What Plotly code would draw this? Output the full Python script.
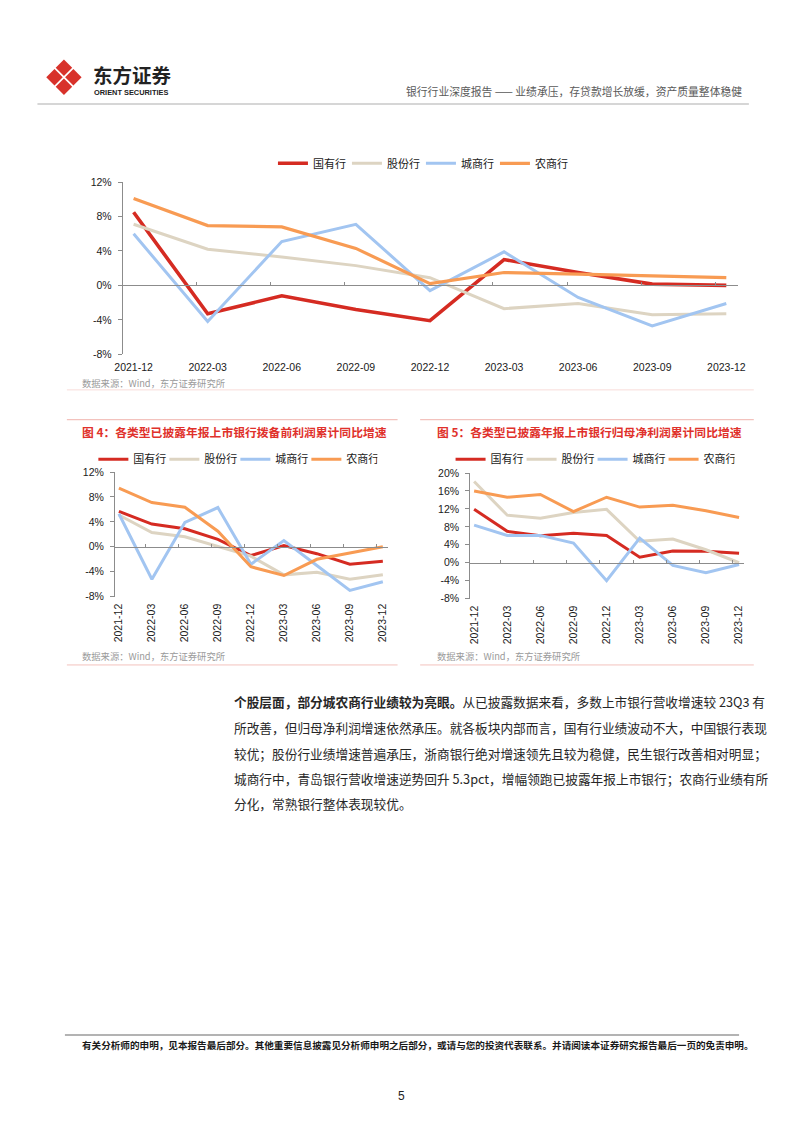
import plotly.graph_objects as go

W, H = 802, 1133


def px(x):
    return x / W


def py(y):
    return 1 - y / H


# ---------------- data ----------------
quarters = ["2021-12", "2022-03", "2022-06", "2022-09", "2022-12",
            "2023-03", "2023-06", "2023-09", "2023-12"]
series_names = ["国有行", "股份行", "城商行", "农商行"]
series_colors = ["#d52b22", "#ddd4c2", "#a2c5f1", "#f89b53"]

# top chart (continued from previous page)
top_guoyou = [8.5, -3.3, -1.2, -2.8, -4.1, 3.0, 1.5, 0.15, 0.0]
top_gufen = [7.1, 4.2, 3.3, 2.3, 0.9, -2.7, -2.1, -3.4, -3.3]
top_chengshang = [6.0, -4.2, 5.1, 7.1, -0.6, 3.9, -1.4, -4.7, -2.1]
top_nongshang = [10.1, 6.95, 6.8, 4.3, 0.2, 1.5, 1.3, 1.1, 0.9]

# Fig 4: pre-provision profit, cumulative YoY
fig4_guoyou = [5.7, 3.65, 2.9, 1.2, -1.4, 0.2, -1.1, -2.8, -2.3]
fig4_gufen = [5.1, 2.3, 1.6, 0.0, -1.5, -4.5, -4.1, -5.2, -4.5]
fig4_chengshang = [5.3, -5.2, 3.9, 6.3, -2.8, 1.0, -3.0, -7.0, -5.6]
fig4_nongshang = [9.4, 7.1, 6.35, 2.5, -3.2, -4.6, -2.0, -1.0, 0.0]

# Fig 5: net profit attributable to parent, cumulative YoY
fig5_guoyou = [11.9, 7.0, 6.0, 6.6, 6.1, 1.25, 2.6, 2.55, 2.1]
fig5_gufen = [18.1, 10.6, 9.9, 11.2, 11.9, 4.8, 5.3, 2.9, 0.0]
fig5_chengshang = [8.4, 6.1, 6.1, 4.4, -4.0, 5.5, -0.6, -2.2, -0.4]
fig5_nongshang = [16.0, 14.6, 15.2, 11.4, 14.6, 12.4, 12.8, 11.6, 10.1]

ticks_a = [-8, -4, 0, 4, 8, 12]
ticks_b = [-8, -4, 0, 4, 8, 12, 16, 20]

title4 = "图 4：各类型已披露年报上市银行拨备前利润累计同比增速"
title5 = "图 5：各类型已披露年报上市银行归母净利润累计同比增速"
source_text = "数据来源：Wind，东方证券研究所"
header_right = "银行行业深度报告 —— 业绩承压，存贷款增长放缓，资产质量整体稳健"
para_lines = [
    "<b>个股层面，部分城农商行业绩较为亮眼。</b>从已披露数据来看，多数上市银行营收增速较 23Q3 有",
    "所改善，但归母净利润增速依然承压。就各板块内部而言，国有行业绩波动不大，中国银行表现",
    "较优；股份行业绩增速普遍承压，浙商银行绝对增速领先且较为稳健，民生银行改善相对明显；",
    "城商行中，青岛银行营收增速逆势回升 5.3pct，增幅领跑已披露年报上市银行；农商行业绩有所",
    "分化，常熟银行整体表现较优。",
]
footer_text = "有关分析师的申明，见本报告最后部分。其他重要信息披露见分析师申明之后部分，或请与您的投资代表联系。并请阅读本证券研究报告最后一页的免责申明。"

# ---------------- layout geometry ----------------
LAT = "Arial, 'Liberation Sans', 'Noto Sans CJK SC', sans-serif"
CJK = "'Noto Sans CJK SC', 'Liberation Sans', sans-serif"
AXC = "#8c8c8c"

panels = [
    dict(x="", ov="4", series=[top_guoyou, top_gufen, top_chengshang, top_nongshang],
         xdom=(117, 744), ydom=(178, 352), first=128, last=732, yr=(-8, 12), yt=ticks_a,
         angle=0, legend="legend", tshift=0.15, widths=[3.6, 3, 3, 3.2]),
    dict(x="2", ov="5", series=[fig4_guoyou, fig4_gufen, fig4_chengshang, fig4_nongshang],
         xdom=(109, 387), ydom=(471, 597), first=113, last=382, yr=(-8, 12), yt=ticks_a,
         angle=-90, legend="legend2", tshift=0.2, widths=[3, 3, 3, 3]),
    dict(x="3", ov="6", series=[fig5_guoyou, fig5_gufen, fig5_chengshang, fig5_nongshang],
         xdom=(471, 750), ydom=(472, 599), first=475, last=745, yr=(-8, 20), yt=ticks_b,
         angle=-90, legend="legend3", tshift=0.2, widths=[3, 3, 3, 3]),
]

fig = go.Figure()
layout = {}
xidx = list(range(len(quarters)))

for p in panels:
    xa = "x" + p["x"]
    ya = "y" + p["x"]
    step = (p["last"] - p["first"]) / (len(quarters) - 1)
    lo = -(p["first"] - p["xdom"][0]) / step
    hi = (len(quarters) - 1) + (p["xdom"][1] - p["last"]) / step
    ylo, yhi = p["yr"]
    for name, vals, col, w in zip(series_names, p["series"], series_colors, p["widths"]):
        fig.add_trace(go.Scatter(
            x=xidx, y=vals, mode="lines", name=name,
            line=dict(color=col, width=w),
            xaxis=xa, yaxis=ya, legend=p["legend"], hoverinfo="skip"))
    # dummy trace for the zero-line axis with ticks
    fig.add_trace(go.Scatter(x=[None], y=[None], xaxis="x" + p["ov"], yaxis=ya,
                             showlegend=False, hoverinfo="skip"))
    zero_px = p["ydom"][0] + (yhi - 0) / (yhi - ylo) * (p["ydom"][1] - p["ydom"][0])
    layout["xaxis" + p["x"]] = dict(
        domain=[px(p["xdom"][0]), px(p["xdom"][1])], anchor=ya,
        range=[lo, hi], tickmode="array", tickvals=xidx, ticktext=quarters,
        tickangle=p["angle"],
        showline=False, showgrid=False, zeroline=False, ticks="",
        tickfont=dict(family=LAT, size=10.5, color="#1a1a1a"),
        ticklabelstandoff=5 if p["angle"] == 0 else 4, fixedrange=True)
    layout["yaxis" + p["x"]] = dict(
        domain=[py(p["ydom"][1]), py(p["ydom"][0])], anchor=xa,
        range=[ylo, yhi], tickmode="array", tickvals=p["yt"],
        ticktext=[f"{v}%" for v in p["yt"]],
        showline=True, linecolor=AXC, linewidth=1, ticks="outside", ticklen=4,
        tickcolor=AXC, showgrid=False, zeroline=False,
        tickfont=dict(family=LAT, size=10.5, color="#1a1a1a"),
        ticklabelstandoff=4, fixedrange=True)
    layout["xaxis" + p["ov"]] = dict(
        overlaying=xa, anchor="free", position=py(zero_px), range=[lo, hi],
        tickmode="array", tickvals=[i - p["tshift"] for i in xidx[1:]],
        ticks="inside", ticklen=3,
        tickcolor=AXC, showticklabels=False, showline=True, linecolor=AXC, linewidth=1,
        showgrid=False, zeroline=False, fixedrange=True)

legend_common = dict(orientation="h", xanchor="left", yanchor="middle",
                     bgcolor="rgba(0,0,0,0)", itemwidth=30, entrywidthmode="pixels",
                     font=dict(family=CJK, size=11, color="#1a1a1a"), tracegroupgap=0)
layout["legend"] = dict(legend_common, x=px(270), y=py(159), entrywidth=29)
layout["legend2"] = dict(legend_common, x=px(87), y=py(458), entrywidth=26)
layout["legend3"] = dict(legend_common, x=px(451), y=py(458), entrywidth=26)

shapes = []


def hline(x0, x1, y, color, width):
    shapes.append(dict(type="line", xref="paper", yref="paper",
                       x0=px(x0), x1=px(x1), y0=py(y), y1=py(y),
                       line=dict(color=color, width=width)))


hline(30, 755, 99, "#c8c8c8", 1.5)        # header rule
hline(60, 760, 388, "#f8dcd9", 1)          # section rules
hline(60, 397, 418, "#f3c2bd", 1.2)
hline(420, 760, 418, "#f3c2bd", 1.2)
hline(60, 397, 666, "#f3c2bd", 1)
hline(420, 760, 666, "#f3c2bd", 1)
hline(58, 745, 1040, "#9a9a9a", 1.5)       # footer rule

# logo: four red diamonds
lc_x, lc_y, off, r = 57, 72, 9.6, 8.4
for dx, dy in [(0, -off), (-off, 0), (off, 0), (0, off)]:
    cx, cy = lc_x + dx, lc_y + dy
    path = (f"M {px(cx)} {py(cy - r)} L {px(cx + r)} {py(cy)} "
            f"L {px(cx)} {py(cy + r)} L {px(cx - r)} {py(cy)} Z")
    shapes.append(dict(type="path", xref="paper", yref="paper", path=path,
                       fillcolor="#d8322b", line=dict(width=0)))

annotations = []


def text(x, y, s, size, color="#1a1a1a", family=CJK, anchor="left"):
    annotations.append(dict(x=px(x), y=py(y), xref="paper", yref="paper", text=s,
                            showarrow=False, xanchor=anchor, yanchor="middle",
                            font=dict(family=family, size=size, color=color)))


text(85, 69, "<b>东方证券</b>", 19.5, "#222222")
text(86, 87, "<b>ORIENT SECURITIES</b>", 7.4, "#222222", LAT)
text(750, 86, header_right, 10.8, "#5a5a5a", anchor="right")

text(73, 381, source_text, 9.3, "#9a9a9a")
text(73, 430, "<b>" + title4 + "</b>", 11.8, "#e0312b")
text(435, 430, "<b>" + title5 + "</b>", 11.8, "#e0312b")
text(73, 657, source_text, 9.3, "#9a9a9a")
text(435, 657, source_text, 9.3, "#9a9a9a")

para_y = [703, 729, 755, 781, 806]
for line, yy in zip(para_lines, para_y):
    text(228, yy, line, 12.7, "#262626")

text(73, 1050, "<b>" + footer_text + "</b>", 9.6, "#1a1a1a")
text(401, 1102, "5", 12, "#222222", LAT, anchor="center")

fig.update_layout(
    width=W, height=H, autosize=False,
    margin=dict(l=0, r=0, t=0, b=0),
    paper_bgcolor="white", plot_bgcolor="rgba(0,0,0,0)",
    font=dict(family=LAT, color="#1a1a1a"),
    shapes=shapes, annotations=annotations,
    **layout,
)

fig.write_html("out.html", config=dict(displayModeBar=False),
               post_script="document.body.style.margin='0';document.body.style.overflow='hidden';")
